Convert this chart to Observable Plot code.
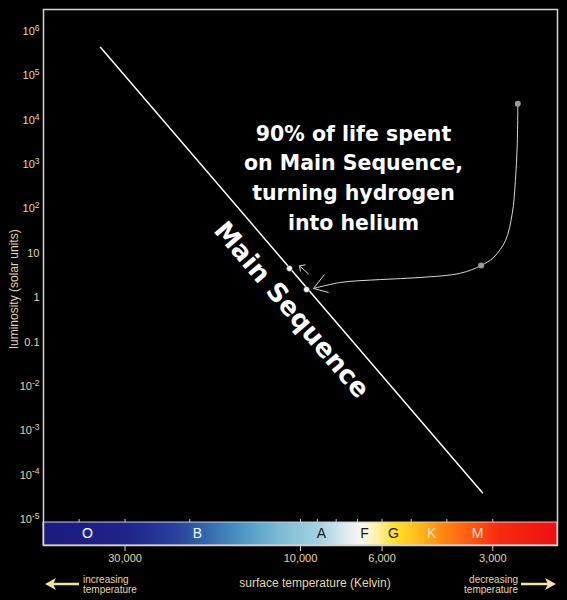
<!DOCTYPE html>
<html><head><meta charset="utf-8">
<script src="https://cdn.jsdelivr.net/npm/d3@7"></script>
<script src="https://cdn.jsdelivr.net/npm/@observablehq/plot@0.6"></script>
<style>html,body{margin:0;padding:0;background:#000;}</style>
</head><body><div id="chart"></div>
<script>
// ---- data ----
const yTicks = [1e6, 1e5, 1e4, 1e3, 1e2, 10, 1, 0.1, 1e-2, 1e-3, 1e-4, 1e-5];
const xTicks = [30000, 10000, 6000, 3000];
const minorTicks = [40000, 30000, 20000, 10000, 9000, 8000, 7000, 6000, 5000, 4000, 3000];

const mainSeqTemp = [35000, 3200];
const mainSeqLum = [4.4e5, 4e-5];

const starTemp = [10715, 9630];
const starLum = [4.55, 1.53];

const giantTemp = [2565, 3226];
const giantLum = [23450, 5.3];

const trackTemp = [2565, 2565, 2575, 2603, 2655, 2770, 2981, 3226, 3671, 4717, 6060, 7785, 9218];
const trackLum = [23450, 13960, 2466, 437, 78.9, 19.4, 8.17, 5.3, 3.56, 2.85, 2.56, 2.20, 1.61];

// arrow segments: [T1, L1, T2, L2]
const segT1 = [9218, 9218, 9495, 10062, 10062];
const segL1 = [1.61, 1.61, 3.38, 5.22, 5.22];
const segT2 = [8606, 8390, 10062, 9690, 10000];
const segL2 = [3.33, 1.31, 5.22, 5.51, 3.89];

const classes = ["O", "B", "A", "F", "G", "K", "M"];
const classTemp = [38000, 19060, 8770, 6700, 5585, 4400, 3300];
const classColor = ["#ffffff", "#eaf4ff", "#1a1a1a", "#1a1a1a", "#1a1a1a", "#ffe6c4", "#ffe2d2"];

const spectrumTemp = [50000, 30000, 21870, 18700, 14560, 11330, 8825, 7545, 6780, 6137, 5515, 4717, 4163, 3449, 2857, 2000];
const spectrumColor = ["#1b1b7e", "#1f2288", "#28409c", "#3060aa", "#4a94c4", "#7cbcd6", "#a6d2e0", "#dcebf0",
  "#fbfaea", "#fff0a0", "#ffe02a", "#ffb81c", "#ff8c12", "#ff5a10", "#f72a10", "#ee1111"];

const captionLines = ["90% of life spent", "on Main Sequence,", "turning hydrogen", "into helium"];
const captionTemp = 7177, captionLum = 560;
const msLabel = "Main Sequence";
const msLabelTemp = 10578, msLabelLum = 0.527;

const xDomain = [50000, 2000];
const yDomain = [10 ** -5.587, 10 ** 6.496];
const barTop = 10 ** -5.069;
const barLetterLum = 10 ** -5.328;
const minorTickTop = 10 ** -5.0;

// ---- build ----
const ink = "#e6d7a8";
const fmtY = d => (d >= 100 || d < 0.05) ? `10^${Math.round(Math.log10(d))}` : String(d);

const chart = Plot.plot({
  width: 567,
  height: 600,
  marginLeft: 43,
  marginRight: 10,
  marginTop: 9,
  marginBottom: 55,
  style: {background: "#000", color: ink, fontFamily: "'Liberation Sans', Arial, sans-serif", fontSize: "11px"},
  x: {type: "log", domain: xDomain, ticks: xTicks, tickFormat: d3.format(","), tickSize: 6, tickPadding: 3, label: null},
  y: {type: "log", domain: yDomain, ticks: yTicks, tickFormat: fmtY, tickSize: 0, tickPadding: 4, label: null},
  marks: [
    Plot.rect([{x1: xDomain[0], x2: xDomain[1], y1: yDomain[0], y2: barTop}],
      {x1: "x1", x2: "x2", y1: "y1", y2: "y2", fill: "url(#spectrum)", stroke: "#d0d0d0", strokeWidth: 1}),
    Plot.ruleX(minorTicks, {x: d => d, y1: barTop, y2: minorTickTop, stroke: "#cfcfcf", strokeWidth: 1}),
    Plot.text(classes, {x: (d, i) => classTemp[i], y: barLetterLum, text: d => d, fill: (d, i) => classColor[i],
      fontSize: 14, fontFamily: "'Liberation Sans', Arial, sans-serif"}),
    Plot.frame({stroke: "#d4d4d4", strokeWidth: 1.5}),
    Plot.line(mainSeqTemp.map((t, i) => ({t, l: mainSeqLum[i]})), {x: "t", y: "l", stroke: "#ffffff", strokeWidth: 1.5}),
    Plot.line(trackTemp.map((t, i) => ({t, l: trackLum[i]})), {x: "t", y: "l", stroke: "#d8d8d8", strokeWidth: 1, curve: "catmull-rom"}),
    Plot.link(segT1.map((t, i) => ({t1: t, l1: segL1[i], t2: segT2[i], l2: segL2[i]})),
      {x1: "t1", y1: "l1", x2: "t2", y2: "l2", stroke: "#d8d8d8", strokeWidth: 1}),
    Plot.dot(giantTemp.map((t, i) => ({t, l: giantLum[i]})), {x: "t", y: "l", r: 3, fill: "#9a9a9a"}),
    Plot.dot(starTemp.map((t, i) => ({t, l: starLum[i]})), {x: "t", y: "l", r: 3, fill: "#ffffff", stroke: "#000", strokeWidth: 0.5}),
    Plot.text([captionLines.join("\n")], {x: () => captionTemp, y: () => captionLum, text: d => d,
      fill: "#ffffff", fontSize: 20.5, fontWeight: "bold", fontFamily: "'DejaVu Sans', sans-serif",
      lineHeight: 1.45, lineAnchor: "middle", textAnchor: "middle"}),
    Plot.text([msLabel], {x: () => msLabelTemp, y: () => msLabelLum, text: d => d, rotate: 49.4,
      fill: "#ffffff", fontSize: 26, fontWeight: "bold", fontFamily: "'DejaVu Sans', sans-serif"})
  ]
});

// gradient for the spectral colour bar
const xs = chart.scale("x");
const svg = d3.select(chart);
const gx1 = xs.apply(xDomain[0]), gx2 = xs.apply(xDomain[1]);
const grad = svg.insert("defs", ":first-child").append("linearGradient")
  .attr("id", "spectrum").attr("gradientUnits", "userSpaceOnUse")
  .attr("x1", gx1).attr("x2", gx2).attr("y1", 0).attr("y2", 0);
spectrumTemp.forEach((t, i) => {
  grad.append("stop").attr("offset", (xs.apply(t) - gx1) / (gx2 - gx1)).attr("stop-color", spectrumColor[i]);
});

// superscript exponents on y tick labels
svg.selectAll('g[aria-label="y-axis tick label"] text').each(function () {
  const s = this.textContent;
  if (s.includes("^")) {
    const [base, exp] = s.split("^");
    const t = d3.select(this);
    t.text(null);
    t.append("tspan").text(base);
    t.append("tspan").attr("dy", "-0.5em").attr("font-size", "8.5px").text(exp);
  }
});

// axis titles and direction notes
const ann = svg.append("g").attr("fill", ink).attr("font-family", "'Liberation Sans', Arial, sans-serif");
ann.append("text").attr("x", 315).attr("y", 587).attr("text-anchor", "middle").attr("font-size", 12)
  .text("surface temperature (Kelvin)");
ann.append("text").attr("transform", "translate(17.5,289) rotate(-90)").attr("text-anchor", "middle").attr("font-size", 12)
  .text("luminosity (solar units)");
ann.append("text").attr("x", 83).attr("y", 582.5).attr("text-anchor", "start").attr("font-size", 10).text("increasing");
ann.append("text").attr("x", 83).attr("y", 593).attr("text-anchor", "start").attr("font-size", 10).text("temperature");
ann.append("text").attr("x", 518).attr("y", 582.5).attr("text-anchor", "end").attr("font-size", 10).text("decreasing");
ann.append("text").attr("x", 518).attr("y", 593).attr("text-anchor", "end").attr("font-size", 10).text("temperature");
const arrowInk = "#f3e3a8";
ann.append("line").attr("x1", 79).attr("x2", 50).attr("y1", 584).attr("y2", 584).attr("stroke", arrowInk).attr("stroke-width", 2.5);
ann.append("path").attr("d", "M45,584 L56,578 L53,584 L56,590 Z").attr("fill", arrowInk);
ann.append("line").attr("x1", 521).attr("x2", 551).attr("y1", 584).attr("y2", 584).attr("stroke", arrowInk).attr("stroke-width", 2.5);
ann.append("path").attr("d", "M556,584 L545,578 L548,584 L545,590 Z").attr("fill", arrowInk);

document.getElementById("chart").appendChild(chart);
</script>
</body></html>
